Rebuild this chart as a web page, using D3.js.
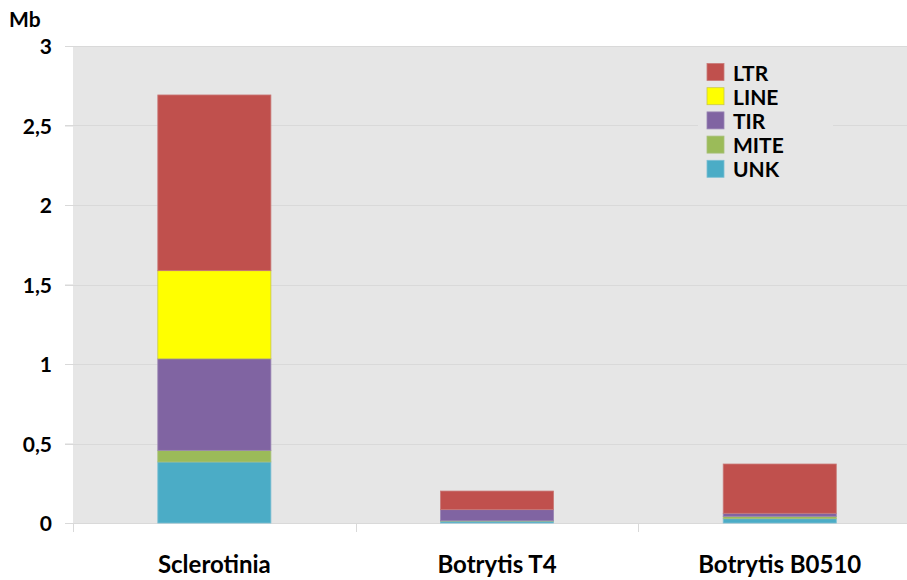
<!DOCTYPE html>
<html>
<head>
<meta charset="utf-8">
<script src="https://cdn.jsdelivr.net/npm/d3@7"></script>
<style>
  html, body { margin: 0; padding: 0; background: #ffffff; }
  svg { display: block; }
  text { font-family: Lato, "Open Sans", "Liberation Sans", sans-serif; font-weight: bold; fill: #000; }
</style>
</head>
<body>
<svg id="chart" width="907" height="580"></svg>
<script>
const categories = ["Sclerotinia", "Botrytis T4", "Botrytis B0510"];
const seriesNames = ["UNK", "MITE", "TIR", "LINE", "LTR"];
const UNK  = [0.384, 0.012, 0.027];
const MITE = [0.073, 0.002, 0.015];
const TIR  = [0.576, 0.070, 0.019];
const LINE = [0.554, 0.000, 0.000];
const LTR  = [1.105, 0.117, 0.310];
const yTicks = [0, 0.5, 1, 1.5, 2, 2.5, 3];
const yTickLabels = ["0", "0,5", "1", "1,5", "2", "2,5", "3"];
const legendOrder = ["LTR", "LINE", "TIR", "MITE", "UNK"];
const yUnit = "Mb";

const colors = { LTR: "#c0504d", LINE: "#ffff00", TIR: "#8064a2", MITE: "#9bbb59", UNK: "#4bacc6" };
const strokeColors = { LTR: "#c97a78", LINE: "#c8c84a", TIR: "#9a86b4", MITE: "#a8c07a", UNK: "#7cbfd3" };

const seriesData = { UNK, MITE, TIR, LINE, LTR };
const table = categories.map((c, i) => {
  const row = { category: c };
  seriesNames.forEach(s => row[s] = seriesData[s][i]);
  return row;
});

const svg = d3.select("#chart");
const pLeft = 73, pTop = 46, pBottom = 523;
const bandW = 282.7;
const pRight = pLeft + bandW * categories.length;

const x = d3.scaleBand().domain(categories).range([pLeft, pRight]).paddingInner(0).paddingOuter(0);
const y = d3.scaleLinear().domain([0, 3]).range([pBottom, pTop]);

// plot background
svg.append("rect").attr("x", pLeft).attr("y", pTop).attr("width", pRight - pLeft).attr("height", pBottom - pTop).attr("fill", "#e6e6e6");

// gridlines
svg.append("g").selectAll("line").data(yTicks.filter(t => t > 0)).join("line")
  .attr("x1", 65).attr("x2", pRight)
  .attr("y1", d => Math.round(y(d)) + 0.5).attr("y2", d => Math.round(y(d)) + 0.5)
  .attr("stroke", "#d9d9d9").attr("stroke-width", 1);

// y axis
const yAxis = d3.axisLeft(y).tickValues(yTicks).tickFormat((d, i) => yTickLabels[i]).tickSize(8).tickPadding(13);
const gy = svg.append("g").attr("transform", `translate(${pLeft},0)`).call(yAxis);
gy.select(".domain").remove();
gy.selectAll(".tick line").attr("stroke", "#d9d9d9");
gy.selectAll(".tick text").attr("x", -21).style("font-size", "21px").attr("dy", "0.37em").attr("font-family", null);

// x axis
const xAxis = d3.axisBottom(x).tickSize(0);
const gx = svg.append("g").attr("transform", `translate(0,${pBottom})`).call(xAxis);
gx.select(".domain").remove();
gx.selectAll(".tick text").attr("y", 50).attr("dy", 0).style("font-size", "24px").attr("font-family", null);
svg.append("line").attr("x1", 65).attr("x2", pRight).attr("y1", pBottom + 0.5).attr("y2", pBottom + 0.5).attr("stroke", "#d9d9d9");
svg.append("g").selectAll("line").data(d3.range(categories.length + 1)).join("line")
  .attr("x1", i => Math.round(pLeft + i * bandW) + 0.5).attr("x2", i => Math.round(pLeft + i * bandW) + 0.5)
  .attr("y1", pBottom).attr("y2", pBottom + 9).attr("stroke", "#d9d9d9");

// stacked bars
const stack = d3.stack().keys(seriesNames)(table);
const barW = x.bandwidth() * 0.4;
svg.append("g").selectAll("g").data(stack).join("g")
  .attr("fill", d => colors[d.key]).attr("stroke", d => strokeColors[d.key]).attr("stroke-width", 0.8)
  .selectAll("rect").data(d => d.filter(p => p[1] - p[0] > 0)).join("rect")
  .attr("x", d => x(d.data.category) + (x.bandwidth() - barW) / 2)
  .attr("width", barW)
  .attr("y", d => y(d[1]))
  .attr("height", d => y(d[0]) - y(d[1]));

// unit label
svg.append("text").attr("x", 9).attr("y", 27).style("font-size", "21px").text(yUnit);

// legend
const legend = svg.append("g");
legend.append("rect").attr("x", 698).attr("y", 54).attr("width", 135).attr("height", 132).attr("fill", "#e6e6e6");
const items = legend.selectAll("g").data(legendOrder).join("g")
  .attr("transform", (d, i) => `translate(707,${63.5 + i * 24.2})`);
items.append("rect").attr("width", 17).attr("height", 17)
  .attr("fill", d => colors[d]).attr("stroke", d => strokeColors[d]).attr("stroke-width", 0.8);
items.append("text").attr("x", 26).attr("y", 17).style("font-size", "21px").text(d => d);
</script>
</body>
</html>
